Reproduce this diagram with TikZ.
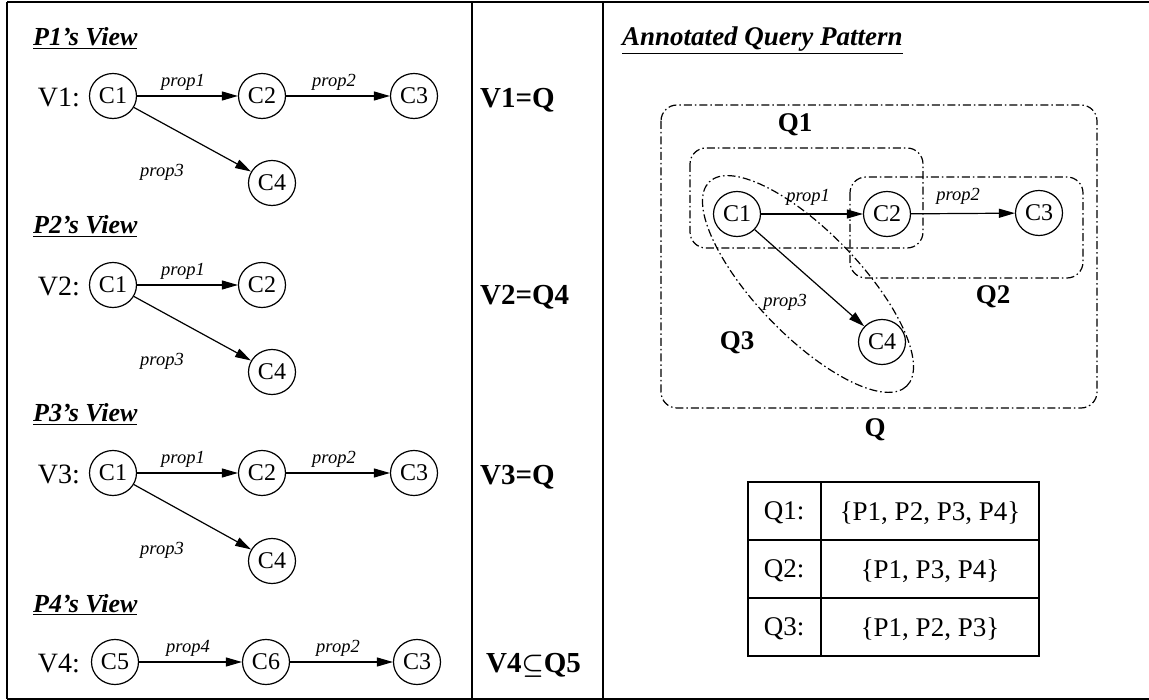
\documentclass[tikz,border=0pt]{standalone}
\usepackage{fontspec}
\setmainfont{Liberation Serif}
\usetikzlibrary{arrows.meta,shapes.geometric}
\begin{document}
\begin{tikzpicture}[x=1pt,y=-1pt,
  txt/.style={inner sep=0pt},
  cnode/.style={draw,ellipse,line width=1.2pt,minimum width=47pt,minimum height=45pt,inner sep=0pt,font=\fontsize{24}{24}\selectfont},
  vlab/.style={txt,anchor=east,font=\fontsize{28}{28}\selectfont},
  plab/.style={txt,font=\fontsize{18.5}{18.5}\selectfont\itshape},
  ttl/.style={txt,anchor=base west,font=\fontsize{26}{26}\selectfont\bfseries\itshape},
  eqlab/.style={txt,anchor=west,font=\fontsize{29}{29}\selectfont\bfseries},
  qlab/.style={txt,font=\fontsize{27}{27}\selectfont\bfseries},
  tlab/.style={txt,font=\fontsize{27}{27}\selectfont},
  edge/.style={line width=1.2pt,-{Triangle[length=16pt,width=9pt]}},
  dd/.style={line width=1.2pt,dash pattern=on 8pt off 3pt on 1.5pt off 3pt,rounded corners=16pt},
  frame/.style={line width=1.8pt}]
\useasboundingbox (0,0) rectangle (1149,700);
% frame
\draw[frame] (7,2) -- (1160,2);
\draw[frame] (7,699) -- (1160,699);
\draw[frame] (7,2) -- (7,699);
\draw[frame] (472,2) -- (472,699);
\draw[frame] (603,2) -- (603,699);

% ---------- P1
\node[ttl] (t1) at (33,46) {\underline{P1’s View}};
\node[vlab] (v1) at (80,97) {V1:};
\node[cnode] (a1) at (113,96) {C1};
\node[cnode] (a2) at (262,96) {C2};
\node[cnode] (a3) at (414,96) {C3};
\node[cnode] (a4) at (272,183) {C4};
\draw[edge] (a1) -- (a2);
\draw[edge] (a2) -- (a3);
\draw[edge] (a1) -- (a4);
\node[plab] (ap1) at (183,82) {prop1};
\node[plab] (ap2) at (334,82) {prop2};
\node[plab] (ap3) at (162,172) {prop3};

% ---------- P2
\node[ttl] (t2) at (33,234) {\underline{P2’s View}};
\node[vlab] (v2) at (80,286) {V2:};
\node[cnode] (b1) at (113,285) {C1};
\node[cnode] (b2) at (262,285) {C2};
\node[cnode] (b4) at (272,372) {C4};
\draw[edge] (b1) -- (b2);
\draw[edge] (b1) -- (b4);
\node[plab] (bp1) at (183,271) {prop1};
\node[plab] (bp3) at (162,361) {prop3};

% ---------- P3
\node[ttl] (t3) at (33,422) {\underline{P3’s View}};
\node[vlab] (v3) at (80,474) {V3:};
\node[cnode] (c1) at (113,473) {C1};
\node[cnode] (c2) at (262,473) {C2};
\node[cnode] (c3) at (414,473) {C3};
\node[cnode] (c4) at (272,561) {C4};
\draw[edge] (c1) -- (c2);
\draw[edge] (c2) -- (c3);
\draw[edge] (c1) -- (c4);
\node[plab] (cp1) at (183,459) {prop1};
\node[plab] (cp2) at (334,459) {prop2};
\node[plab] (cp3) at (162,550) {prop3};

% ---------- P4
\node[ttl] (t4) at (33,612) {\underline{P4’s View}};
\node[vlab] (v4) at (80,663) {V4:};
\node[cnode] (d5) at (115,662) {C5};
\node[cnode] (d6) at (266,662) {C6};
\node[cnode] (d3) at (417,662) {C3};
\draw[edge] (d5) -- (d6);
\draw[edge] (d6) -- (d3);
\node[plab] (dp4) at (188,648) {prop4};
\node[plab] (dp2) at (338,648) {prop2};

% ---------- middle
\node[eqlab] (e1) at (480,100) {V1=Q};
\node[eqlab] (e2) at (480,297) {V2=Q4};
\node[eqlab] (e3) at (480,477) {V3=Q};
\node[eqlab] (e4) at (486,665) {V4{\boldmath$\subseteq$}Q5};

% ---------- right
\node[txt,anchor=base west,font=\fontsize{27}{27}\selectfont\bfseries\itshape] (t5) at (622,46) {\underline{Annotated Query Pattern}};
\draw[dd] (661,105) rectangle (1097,408);
\draw[dd] (690,148) rectangle (923,248);
\draw[dd] (850,177) rectangle (1083,278);
\draw[line width=1.2pt,dash pattern=on 8pt off 3pt on 1.5pt off 3pt,rotate around={-46:(808,284)}] (808,284) ellipse [x radius=142, y radius=52];
\node[cnode] (q1) at (737,214) {C1};
\node[cnode] (q2) at (887,214) {C2};
\node[cnode] (q3) at (1039,213) {C3};
\node[cnode] (q4) at (882,342) {C4};
\draw[edge] (q1) -- (q2);
\draw[edge] (q2) -- (q3);
\draw[edge] (q1) -- (q4);
\node[plab] (qp1) at (808,197) {prop1};
\node[plab] (qp2) at (958,196) {prop2};
\node[plab] (qp3) at (785,302) {prop3};
\node[qlab] (Q1) at (795,125) {Q1};
\node[qlab] (Q2) at (993,297) {Q2};
\node[qlab] (Q3) at (737,343) {Q3};
\node[qlab] (Q) at (875,430) {Q};

% table
\draw[line width=1.2pt] (748,482) rectangle (1039,656);
\draw[line width=1.2pt] (748,540) -- (1039,540);
\draw[line width=1.2pt] (748,598) -- (1039,598);
\draw[line width=1.2pt] (821,482) -- (821,656);
\node[tlab] (r1a) at (784,513) {Q1:};
\node[tlab] (r1b) at (930,513) {\{P1, P2, P3, P4\}};
\node[tlab] (r2a) at (784,571) {Q2:};
\node[tlab] (r2b) at (930,571) {\{P1, P3, P4\}};
\node[tlab] (r3a) at (784,629) {Q3:};
\node[tlab] (r3b) at (930,629) {\{P1, P2, P3\}};
\end{tikzpicture}
\end{document}
